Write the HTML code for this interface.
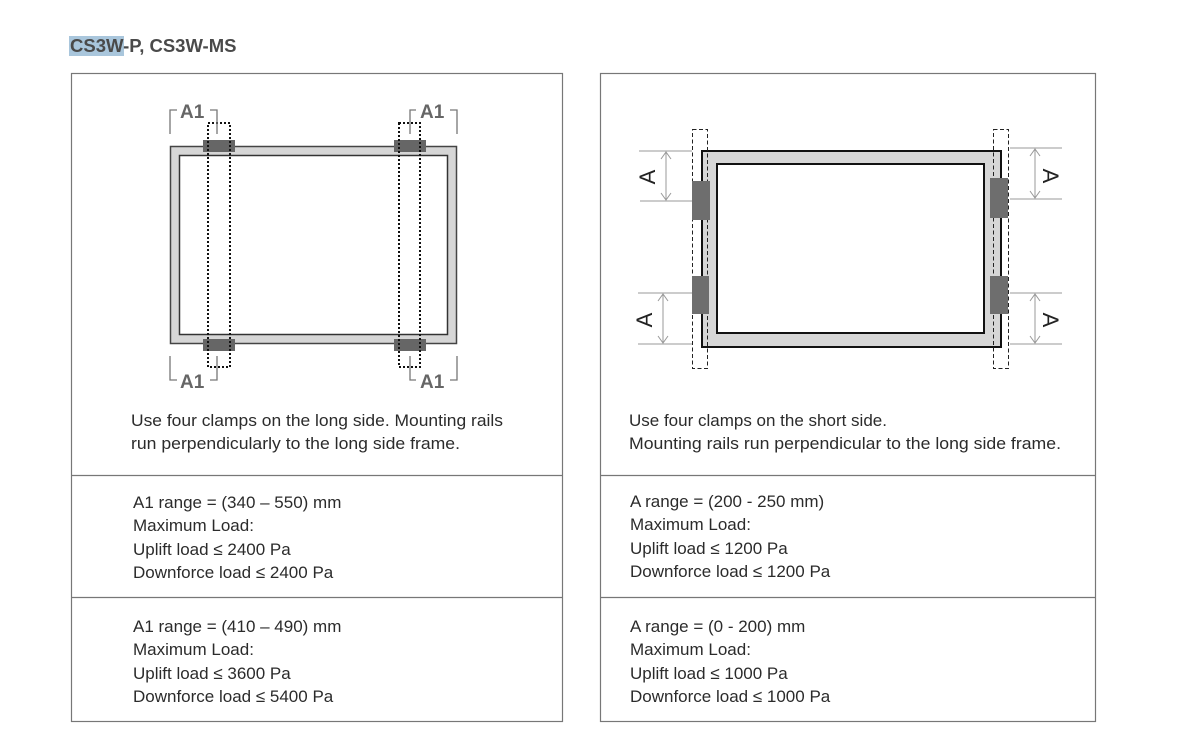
<!DOCTYPE html>
<html><head><meta charset="utf-8"><style>
html,body{margin:0;padding:0;background:#fff;}
svg{display:block;}
text{font-family:"Liberation Sans",sans-serif;}
.t{font-size:17px;fill:#2b2b2b;}
</style></head><body>
<svg width="1186" height="753" viewBox="0 0 1186 753" xmlns="http://www.w3.org/2000/svg">
<rect x="69" y="36" width="55" height="20" fill="#a9c6dc"/>
<text x="70" y="52" font-size="18.5" font-weight="bold" fill="#4a4a4a">CS3W-P, CS3W-MS</text>

<g fill="none" stroke="#777" stroke-width="1.2">
<rect x="71.5" y="73.5" width="491" height="648"/>
<line x1="71" y1="475.5" x2="563" y2="475.5"/>
<line x1="71" y1="597.5" x2="563" y2="597.5"/>
<rect x="600.5" y="73.5" width="495" height="648"/>
<line x1="600" y1="475.5" x2="1096" y2="475.5"/>
<line x1="600" y1="597.5" x2="1096" y2="597.5"/>
</g>

<!-- left diagram -->
<rect x="170.5" y="146.5" width="286" height="197" fill="#d6d6d6" stroke="#444" stroke-width="1.5"/>
<rect x="179.5" y="155.5" width="268" height="179" fill="#fff" stroke="#333" stroke-width="1.5"/>
<g fill="#666">
<rect x="203" y="140" width="32" height="12"/><rect x="203" y="339" width="32" height="12"/>
<rect x="394" y="140" width="32" height="12"/><rect x="394" y="339" width="32" height="12"/>
</g>
<g fill="none" stroke="#111" stroke-width="2" stroke-dasharray="2,2">
<rect x="208" y="123" width="22" height="244"/>
<rect x="399" y="123" width="21" height="244"/>
</g>
<g fill="none" stroke="#777" stroke-width="1.3">
<polyline points="170,134 170,110 177,110"/><polyline points="210,110 217,110 217,134"/>
<polyline points="410,134 410,110 416,110"/><polyline points="450,110 457,110 457,134"/>
<polyline points="170,356 170,380 177,380"/><polyline points="210,380 217,380 217,356"/>
<polyline points="410,356 410,380 416,380"/><polyline points="450,380 457,380 457,356"/>
</g>
<g font-size="19" font-weight="bold" fill="#666">
<text x="180" y="118">A1</text><text x="420" y="118">A1</text>
<text x="180" y="388">A1</text><text x="420" y="388">A1</text>
</g>

<!-- right diagram -->
<rect x="702" y="151" width="299" height="196" fill="#d6d6d6" stroke="#111" stroke-width="2"/>
<rect x="717" y="164" width="267" height="169" fill="#fff" stroke="#111" stroke-width="2"/>
<g fill="none" stroke="#222" stroke-width="1" stroke-dasharray="4,2.5">
<rect x="692.5" y="129.5" width="15" height="239"/>
<rect x="993.5" y="129.5" width="15" height="239"/>
</g>
<g fill="#6e6e6e">
<rect x="692" y="181" width="18" height="39"/><rect x="692" y="276" width="17" height="38"/>
<rect x="990" y="178" width="18" height="40"/><rect x="990" y="276" width="18" height="38"/>
</g>
<g stroke="#999" stroke-width="1" fill="none">
<line x1="639" y1="151" x2="692" y2="151"/><line x1="640" y1="201" x2="692" y2="201"/>
<line x1="666" y1="152" x2="666" y2="200"/>
<polyline points="661,159 666,152 671,159"/><polyline points="661,193 666,200 671,193"/>
<line x1="638" y1="293" x2="692" y2="293"/><line x1="638" y1="344" x2="692" y2="344"/>
<line x1="663" y1="294" x2="663" y2="343"/>
<polyline points="658,301 663,294 668,301"/><polyline points="658,336 663,343 668,336"/>
<line x1="1010" y1="148" x2="1062" y2="148"/><line x1="1010" y1="199" x2="1062" y2="199"/>
<line x1="1035" y1="149" x2="1035" y2="198"/>
<polyline points="1030,156 1035,149 1040,156"/><polyline points="1030,191 1035,198 1040,191"/>
<line x1="1010" y1="293" x2="1062" y2="293"/><line x1="1010" y1="344" x2="1062" y2="344"/>
<line x1="1035" y1="294" x2="1035" y2="343"/>
<polyline points="1030,301 1035,294 1040,301"/><polyline points="1030,336 1035,343 1040,336"/>
</g>
<g font-size="22" fill="#222">
<text transform="translate(655,177) rotate(-90)" text-anchor="middle">A</text>
<text transform="translate(652,320) rotate(-90)" text-anchor="middle">A</text>
<text transform="translate(1043,176) rotate(90)" text-anchor="middle">A</text>
<text transform="translate(1043,320) rotate(90)" text-anchor="middle">A</text>
</g>

<!-- texts -->
<g class="t">
<text x="131" y="426" textLength="372" lengthAdjust="spacingAndGlyphs">Use four clamps on the long side. Mounting rails</text>
<text x="131" y="449" textLength="329" lengthAdjust="spacingAndGlyphs">run perpendicularly to the long side frame.</text>
<text x="133" y="508">A1 range = (340 – 550) mm</text>
<text x="133" y="531">Maximum Load:</text>
<text x="133" y="555">Uplift load ≤ 2400 Pa</text>
<text x="133" y="578">Downforce load ≤ 2400 Pa</text>
<text x="133" y="632">A1 range = (410 – 490) mm</text>
<text x="133" y="655">Maximum Load:</text>
<text x="133" y="679">Uplift load ≤ 3600 Pa</text>
<text x="133" y="702">Downforce load ≤ 5400 Pa</text>

<text x="629" y="426">Use four clamps on the short side.</text>
<text x="629" y="449" textLength="432" lengthAdjust="spacingAndGlyphs">Mounting rails run perpendicular to the long side frame.</text>
<text x="630" y="507">A range = (200 - 250 mm)</text>
<text x="630" y="530">Maximum Load:</text>
<text x="630" y="554">Uplift load ≤ 1200 Pa</text>
<text x="630" y="577">Downforce load ≤ 1200 Pa</text>
<text x="630" y="632">A range = (0 - 200) mm</text>
<text x="630" y="655">Maximum Load:</text>
<text x="630" y="679">Uplift load ≤ 1000 Pa</text>
<text x="630" y="702">Downforce load ≤ 1000 Pa</text>
</g>
</svg>
</body></html>
